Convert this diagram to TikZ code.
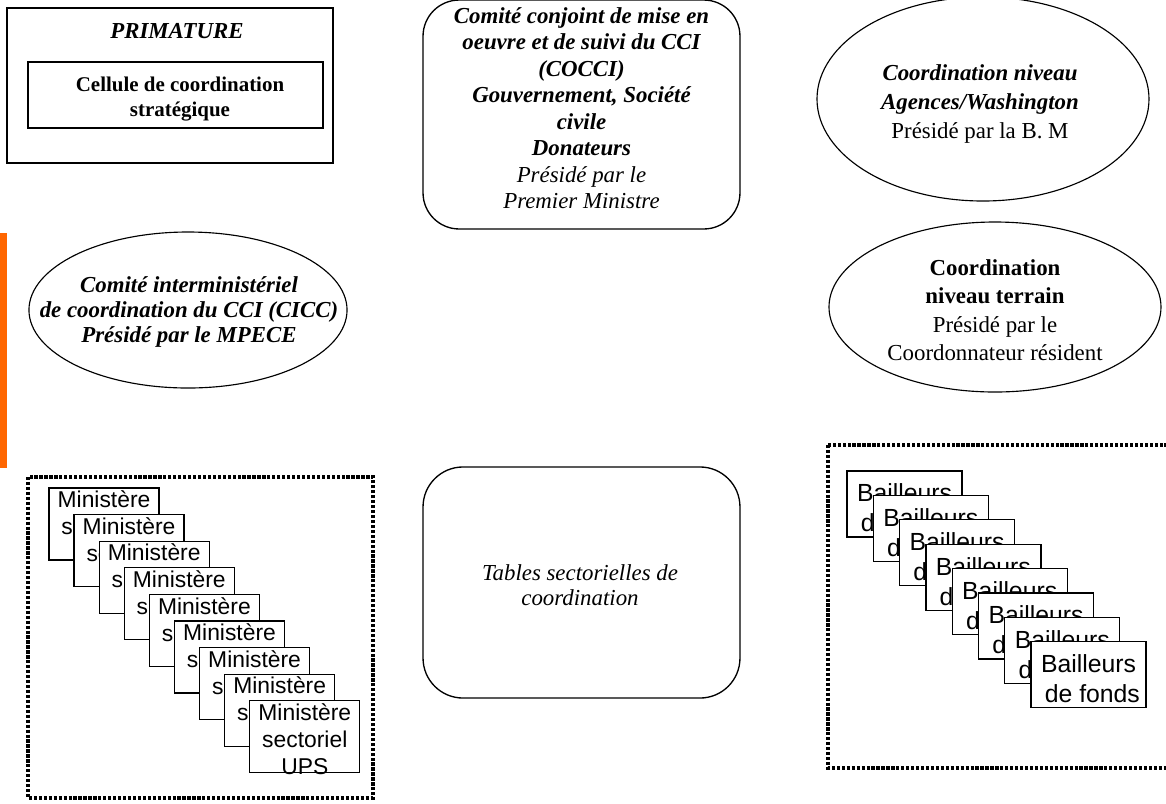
\documentclass[tikz,border=0pt]{standalone}
\usepackage{fontspec}
\setmainfont{Liberation Serif}
\newfontfamily\arialfont{Liberation Sans}
\usetikzlibrary{shapes.geometric}
\definecolor{barorange}{HTML}{FF6600}

\begin{document}
\begin{tikzpicture}[x=0.525pt, y=-0.525pt,
  box/.style={draw, line width=0.7pt, inner sep=0pt},
  oval/.style={draw, ellipse, line width=0.6pt, inner sep=0pt},
  rbox/.style={draw, line width=0.7pt, inner sep=0pt, minimum width=166.4pt},
  txt/.style={align=center, inner sep=0pt},
  dotframe/.style={line width=1.6pt, dash pattern=on 1.7pt off 0.9pt},
  minbox/.style={box, fill=white, minimum width=57.75pt, minimum height=37.8pt},
  mintext/.style={anchor=north, inner sep=0pt, yshift=-1.6pt, align=center, font=\arialfont\fontsize{12}{14.2}\selectfont},
  bailbox/.style={box, fill=white, minimum width=60.4pt, minimum height=34.65pt},
  bailtext/.style={inner sep=0pt, yshift=-2.1pt, align=center, font=\arialfont\fontsize{13}{15.75}\selectfont}]

  \useasboundingbox (0,0) rectangle (1166,803);

  \fill[barorange] (0,233) rectangle (7,468);

  \node[box, minimum width=171.15pt, minimum height=81.4pt] (prim) at (170,85.5) {};
  \node[txt, font=\fontsize{12}{13.9}\selectfont\bfseries\itshape] (primtitle) at (177,31.5) {PRIMATURE};
  \node[box, minimum width=154.9pt, minimum height=34.65pt] (cellule) at (175.5,95) {};
  \node[txt, font=\fontsize{11}{13}\selectfont\bfseries] (celltxt) at (180,99) {Cellule de coordination\\stratégique};

  \node[rbox, rounded corners=19pt, minimum height=120.2pt] (cocci) at (581.5,114.5) {};
  \node[txt, font=\fontsize{12}{13.9}\selectfont\itshape] (coccitxt) at (581.5,108)
    {\textbf{Comité conjoint de mise en}\\\textbf{oeuvre et de suivi du CCI}\\\textbf{(COCCI)}\\
     \textbf{Gouvernement, Société}\\\textbf{civile}\\\textbf{Donateurs}\\Présidé par le\\Premier Ministre};

  \node[oval, minimum width=174.3pt, minimum height=107.1pt] (wash) at (983,99) {};
  \node[txt, font=\fontsize{12}{15}\selectfont] (washtxt) at (980,104)
    {\textbf{\textit{Coordination niveau}}\\\textbf{\textit{Agences/Washington}}\\Présidé par la B. M};

  \node[oval, minimum width=167pt, minimum height=81.9pt] (cicc) at (188,310) {};
  \node[txt, font=\fontsize{12}{13.2}\selectfont\bfseries\itshape] (cicctxt) at (189,312)
    {Comité interministériel\\de coordination du CCI (CICC)\\Présidé par le MPECE};

  \node[oval, minimum width=174.3pt, minimum height=89.25pt] (terrain) at (995,307) {};
  \node[txt, font=\fontsize{12}{14.9}\selectfont] (terraintxt) at (995,310)
    {\textbf{Coordination}\\\textbf{niveau terrain}\\Présidé par le\\Coordonnateur résident};

  \node[rbox, rounded corners=21pt, minimum height=121.3pt] (tables) at (581.5,582.5) {};
  \node[txt, font=\fontsize{12}{13.1}\selectfont\itshape] (tablestxt) at (580,585.5)
    {Tables sectorielles de\\coordination};

  \draw[dotframe] (28,477) rectangle (373,798);
  \foreach \i in {0,...,8} {
    \node[minbox] (min\i) at ({104+25.1*\i},{524+26.6*\i}) {};
    \node[mintext] (mintxt\i) at (min\i.north) {Ministère\\sectoriel\\UPS};
  }

  \draw[dotframe] (828,445) rectangle (1180,768);
  \foreach \i in {0,...,7} {
    \node[bailbox] (bail\i) at ({904.5+26.3*\i},{504+24.4*\i}) {};
    \node[bailtext] (bailtxt\i) at (bail\i.center) {Bailleurs\\\hspace*{4pt}de fonds};
  }
\end{tikzpicture}
\end{document}
